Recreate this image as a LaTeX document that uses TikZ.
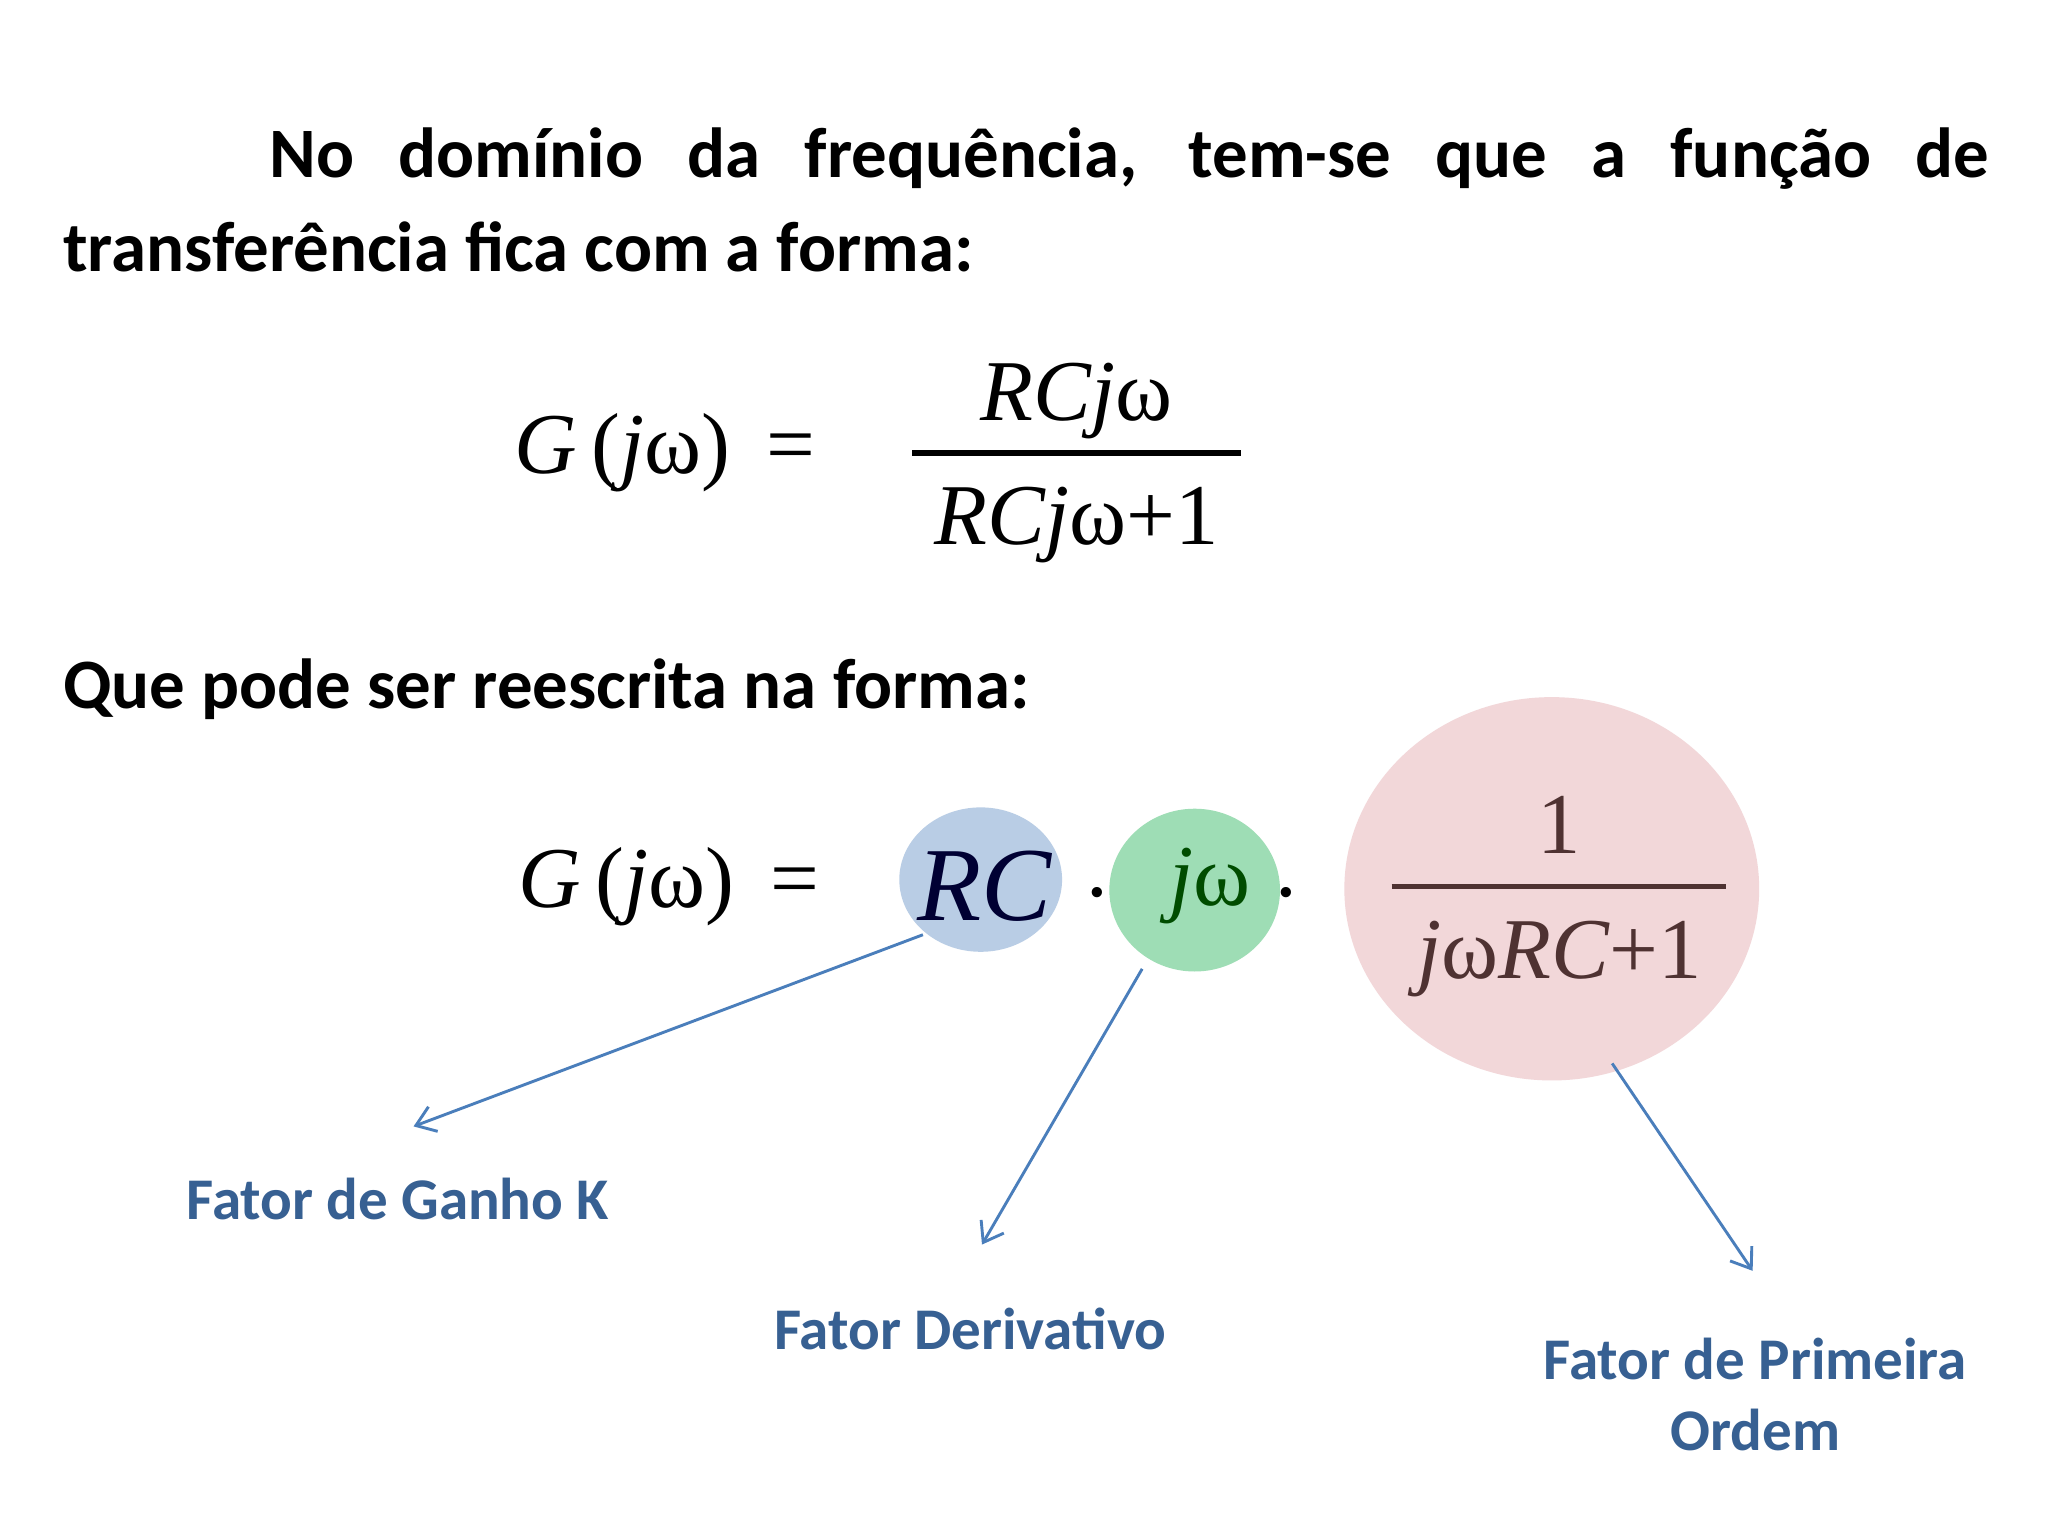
\documentclass[tikz,border=0pt]{standalone}
\usepackage{fontspec}
\setmainfont{Carlito}
\newfontfamily\mathf{Liberation Serif}
\usetikzlibrary{arrows.meta,shapes.geometric}
\definecolor{arr}{HTML}{4A7EBB}
\definecolor{lab}{HTML}{376092}
\definecolor{cblue}{HTML}{B9CDE5}
\definecolor{cgreen}{HTML}{9EDDB5}
\definecolor{cpink}{HTML}{F2D7D9}
\definecolor{brown}{HTML}{4F3232}
\begin{document}
\begin{tikzpicture}[x=1pt,y=-1pt,
  title/.style={anchor=base west,inner sep=0,font=\fontsize{54}{60}\selectfont\bfseries},
  mth/.style={inner sep=0,font=\fontsize{66}{70}\selectfont\mathf\itshape},
  lbl/.style={inner sep=0,text=lab,font=\fontsize{45}{54}\selectfont\bfseries,align=center},
  conn/.style={draw=arr,line width=2.2pt,-{Straight Barb[length=14pt,width=20pt,line width=2.2pt]}}]
\useasboundingbox (0,0) rectangle (1560,1170);
\fill[white] (0,0) rectangle (1560,1170);
\node[title] (t1) at (205,135) {\makebox[1310pt][s]{No domínio da frequência, tem-se que a função de}};
\node[title] (t2) at (48,207) {transferência fica com a forma:};
\node[title] (t3) at (48,540) {Que pode ser reescrita na forma:};
% equation 1
\node[mth,anchor=west] (g1) at (392,345) {G\,\textup{(}j\textup{ω)}\, \textup{=}};
\draw[line width=4pt] (695,345) -- (945,345);
\node[mth,anchor=base] (n1) at (820,320) {RCj\textup{ω}};
\node[mth,anchor=base] (d1) at (820,415) {RCj\textup{ω+1}};
% equation 2
\node[ellipse,fill=cblue,minimum width=124pt,minimum height=110pt,inner sep=0] (cb) at (747,670) {};
\node[ellipse,fill=cgreen,minimum width=130pt,minimum height=124pt,inner sep=0] (cg) at (910,678) {};
\node[ellipse,fill=cpink,minimum width=316pt,minimum height=292pt,inner sep=0] (cp) at (1182,677) {};
\node[mth,anchor=west] (g2) at (395,675) {G\,\textup{(}j\textup{ω)}\, \textup{=}};
\node[mth,anchor=center,text=black!80!blue,font=\fontsize{80}{84}\selectfont\mathf\itshape] (rc) at (750,675) {RC};
\node[mth] (dot1) at (836,680) {\textup{.}};
\node[mth,text=black!70!green] (jw) at (922,675) {j\textup{ω}};
\node[mth] (dot2) at (980,680) {\textup{.}};
\draw[brown,line width=4pt] (1060,675) -- (1315,675);
\node[mth,anchor=base,text=brown] (n2) at (1188,650) {\textup{1}};
\node[mth,anchor=base,text=brown] (d2) at (1188,745) {j\textup{ω}RC\textup{+1}};
% labels
\node[lbl] (l1) at (303,913) {Fator de Ganho K};
\node[lbl] (l2) at (739,1012) {Fator Derivativo};
\node[lbl] (l3) at (1337,1062) {Fator de Primeira\\Ordem};
\coordinate (e1) at (315,858);
\coordinate (e2) at (748,948);
\coordinate (e3) at (1335,968);
\draw[conn] (703,712) -- (e1);
\draw[conn] (870,738) -- (e2);
\draw[conn] (1228,810) -- (e3);
\end{tikzpicture}
\end{document}
